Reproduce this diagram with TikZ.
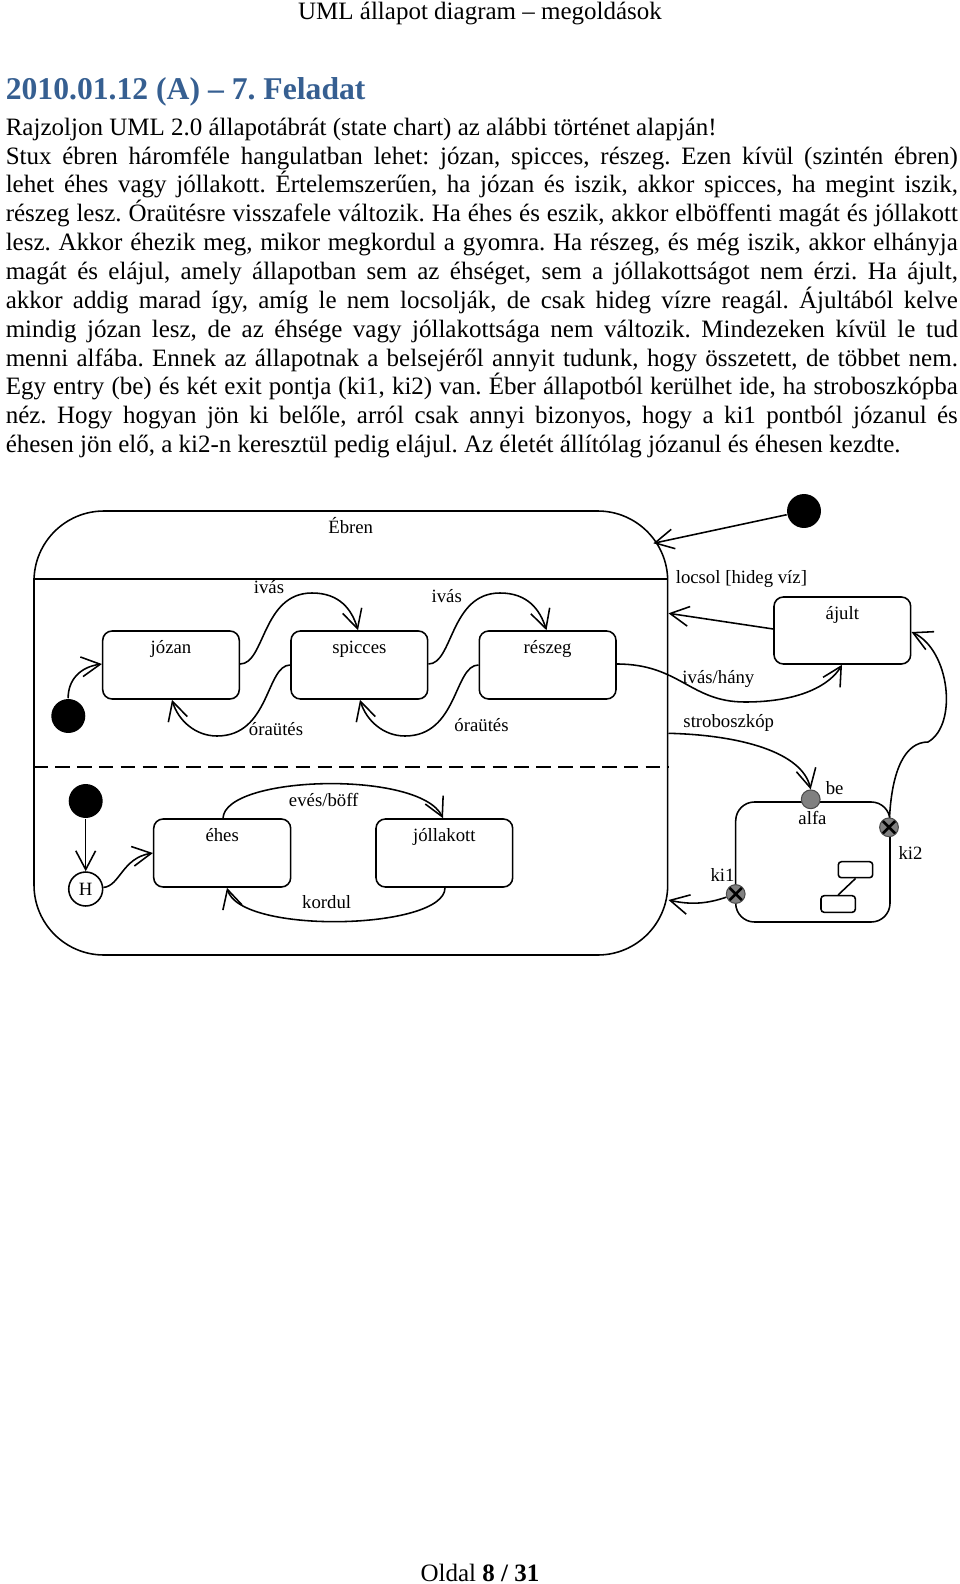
\documentclass[tikz,border=0pt]{standalone}
\usepackage{fontspec}
\setmainfont{Liberation Serif}
\usetikzlibrary{arrows.meta,fit,calc}
\definecolor{headblue}{RGB}{54,95,145}
\definecolor{ptgray}{RGB}{128,128,128}
\frenchspacing
\begin{document}
\begin{tikzpicture}[x=0.48pt,y=-0.48pt,line width=0.75pt,
  statebox/.style={draw,rounded corners=4.5pt,inner sep=0pt},
  lbl/.style={font=\fontsize{9}{10}\selectfont,inner sep=0pt,text height=6.3pt,text depth=1.9pt},
  stlbl/.style={label={[lbl,anchor=center,yshift=-9.1pt]north:#1}},
  arr/.style={-{Straight Barb[length=9pt,width=9.5pt]}},
  initdot/.style={circle,fill=black,minimum size=16.3pt,inner sep=0pt},
  entrypt/.style={circle,draw=black!70,fill=ptgray,line width=0.5pt,minimum size=9pt,inner sep=0pt},
  exitpt/.style={circle,draw=black!70,fill=ptgray,line width=0.5pt,minimum size=9pt,inner sep=0pt,
    path picture={\draw[line width=1.3pt,black]
      (path picture bounding box.north west) -- (path picture bounding box.south east)
      (path picture bounding box.north east) -- (path picture bounding box.south west);}},
  bodyline/.style={anchor=base west,inner sep=0pt,font=\fontsize{12}{13.8}\selectfont}]
\useasboundingbox (0,0) rectangle (960,1584);

% ---------- page texts ----------
\node[anchor=base,inner sep=0pt,font=\fontsize{12}{14}\selectfont] (header) at (480,20) {UML állapot diagram – megoldások};
\node[anchor=base west,inner sep=0pt,font=\fontsize{15.2}{18}\selectfont\bfseries,text=headblue] (title) at (5,100) {2010.01.12 (A) – 7. Feladat};
\node[bodyline] (l1) at (5,135.3) {Rajzoljon UML 2.0 állapotábrát (state chart) az alábbi történet alapján!};
\node[bodyline] (l2) at (5,164.15) {\makebox[457pt][s]{Stux ébren háromféle hangulatban lehet: józan, spicces, részeg. Ezen kívül (szintén ébren)}};
\node[bodyline] (l3) at (5,193.0) {\makebox[457pt][s]{lehet éhes vagy jóllakott. Értelemszerűen, ha józan és iszik, akkor spicces, ha megint iszik,}};
\node[bodyline] (l4) at (5,221.85) {\makebox[457pt][s]{részeg lesz. Óraütésre visszafele változik. Ha éhes és eszik, akkor elböffenti magát és jóllakott}};
\node[bodyline] (l5) at (5,250.7) {\makebox[457pt][s]{lesz. Akkor éhezik meg, mikor megkordul a gyomra. Ha részeg, és még iszik, akkor elhányja}};
\node[bodyline] (l6) at (5,279.55) {\makebox[457pt][s]{magát és elájul, amely állapotban sem az éhséget, sem a jóllakottságot nem érzi. Ha ájult,}};
\node[bodyline] (l7) at (5,308.4) {\makebox[457pt][s]{akkor addig marad így, amíg le nem locsolják, de csak hideg vízre reagál. Ájultából kelve}};
\node[bodyline] (l8) at (5,337.25) {\makebox[457pt][s]{mindig józan lesz, de az éhsége vagy jóllakottsága nem változik. Mindezeken kívül le tud}};
\node[bodyline] (l9) at (5,366.1) {\makebox[457pt][s]{menni alfába. Ennek az állapotnak a belsejéről annyit tudunk, hogy összetett, de többet nem.}};
\node[bodyline] (l10) at (5,394.95) {\makebox[457pt][s]{Egy entry (be) és két exit pontja (ki1, ki2) van. Éber állapotból kerülhet ide, ha stroboszkópba}};
\node[bodyline] (l11) at (5,423.8) {\makebox[457pt][s]{néz. Hogy hogyan jön ki belőle, arról csak annyi bizonyos, hogy a ki1 pontból józanul és}};
\node[bodyline] (l12) at (5,452.65) {éhesen jön elő, a ki2-n keresztül pedig elájul. Az életét állítólag józanul és éhesen kezdte.};
\node[anchor=base,inner sep=0pt,font=\fontsize{12}{14}\selectfont] (footer) at (480,1581) {Oldal \textbf{8 / 31}};

% ---------- Ébren composite ----------
\node[draw,rounded corners=33.6pt,inner sep=0pt,fit={(34,511) (667.7,955)}] (ebren) {};
\draw (ebren.west |- 0,579) -- (ebren.east |- 0,579);
\draw[dash pattern=on 7pt off 3.5pt] (ebren.west |- 0,767) -- (ebren.east |- 0,767);
\node[lbl] (ebrenT) at (350.7,529) {Ébren};

% upper region
\node[statebox,fit={(102.7,631) (239.3,699)},stlbl=józan] (jozan) {};
\node[statebox,fit={(291,631) (427.7,699)},stlbl=spicces] (spicces) {};
\node[statebox,fit={(479.3,631) (616,699)},stlbl=részeg] (reszeg) {};
\node[initdot] (init1) at (68.3,716) {};

\draw[arr] (init1) .. controls (68,680) and (80,667) .. (jozan.west |- 0,664);
\draw[arr] (jozan.east |- 0,664) .. controls (265,664) and (262,593) .. (312,593)
           .. controls (340,593) and (352,610) .. (spicces.north -| 358,0);
\draw[arr] (spicces.west |- 0,665) .. controls (266,665) and (270,736) .. (217,736)
           .. controls (195,736) and (178,720) .. (jozan.south -| 172,0);
\draw[arr] (spicces.east |- 0,664) .. controls (453,664) and (450,593) .. (500,593)
           .. controls (528,593) and (540,610) .. (reszeg.north -| 546.5,0);
\draw[arr] (reszeg.west |- 0,665) .. controls (454,665) and (458,736) .. (405,736)
           .. controls (383,736) and (366,720) .. (spicces.south -| 360,0);
\node[lbl] (t1) at (269,589) {ivás};
\node[lbl] (t2) at (276,731) {óraütés};
\node[lbl] (t3) at (446.7,598) {ivás};
\node[lbl] (t4) at (481.5,726.7) {óraütés};

% lower region
\node[initdot] (init3) at (85.7,801) {};
\node[circle,draw,minimum size=16.3pt,inner sep=0pt,font=\fontsize{9}{10}\selectfont] (H) at (85.7,889) {H};
\node[statebox,fit={(153.7,819) (290.7,887)},stlbl=éhes] (ehes) {};
\node[statebox,fit={(376,819) (512.7,887)},stlbl=jóllakott] (joll) {};
\draw[arr] (init3) -- (H);
\draw[arr] (H) .. controls (120,886) and (122,858) .. (ehes.west |- 0,853);
\draw[arr] (ehes.north -| 223,0) .. controls (225,775) and (420,770) .. (joll.north -| 443,0);
\draw[arr] (joll.south -| 445,0) .. controls (445,930) and (240,935) .. (ehes.south -| 227,0);
\node[lbl] (t5) at (323.7,801.7) {evés/böff};
\node[lbl] (t6) at (326.7,904.3) {kordul};

% ---------- right side ----------
\node[initdot] (init2) at (804,511) {};
\coordinate (ebrenIn) at (653.3,543.3);
\draw[arr] (init2) -- (ebrenIn);

\node[statebox,fit={(774,597) (910.7,664)},stlbl=ájult] (ajult) {};
\draw[arr] (ajult.west |- 0,629) -- (ebren.east |- 0,613.3);
\node[lbl,anchor=west] (t7) at (675,579) {locsol [hideg víz]};

\draw[arr] (reszeg.east |- 0,664) .. controls (680,664) and (690,702) .. (745,702)
           .. controls (800,702) and (830,685) .. (ajult.south -| 842,0);
\node[lbl,anchor=west] (t8) at (681.7,679.3) {ivás/hány};

% alfa composite
\node[draw,rounded corners=9pt,inner sep=0pt,fit={(735.7,802) (890,922)}] (alfa) {};
\node[draw,rounded corners=1.5pt,inner sep=0pt,fit={(838.3,861.7) (872.7,877.7)}] (d1) {};
\node[draw,rounded corners=1.5pt,inner sep=0pt,fit={(821,895.7) (855.3,912.3)}] (d2) {};
\draw (d1.south) -- (d2.north);
\node[entrypt] (be) at (810.7,799.3) {};
\node[exitpt] (ki2) at (889,827.3) {};
\node[exitpt] (ki1) at (735.7,894) {};
\node[lbl] (t9) at (834.7,790) {be};
\node[lbl] (t10) at (812.5,820) {alfa};
\node[lbl] (t11) at (910.5,855) {ki2};
\node[lbl] (t12) at (722.5,877.3) {ki1};

\draw[arr] (ebren.east |- 0,733.3) .. controls (740,735) and (802,752) .. (be.north);
\node[lbl,anchor=west] (t13) at (682.7,723.3) {stroboszkóp};

\draw[arr] (ki2) .. controls (892,770) and (905,742) .. (928,742)
           .. controls (958,725) and (950,650) .. (ajult.east |- 0,632);
\draw[arr] (ki1) .. controls (712,902) and (695,906) .. (ebren.east |- 0,900);
\end{tikzpicture}
\end{document}
